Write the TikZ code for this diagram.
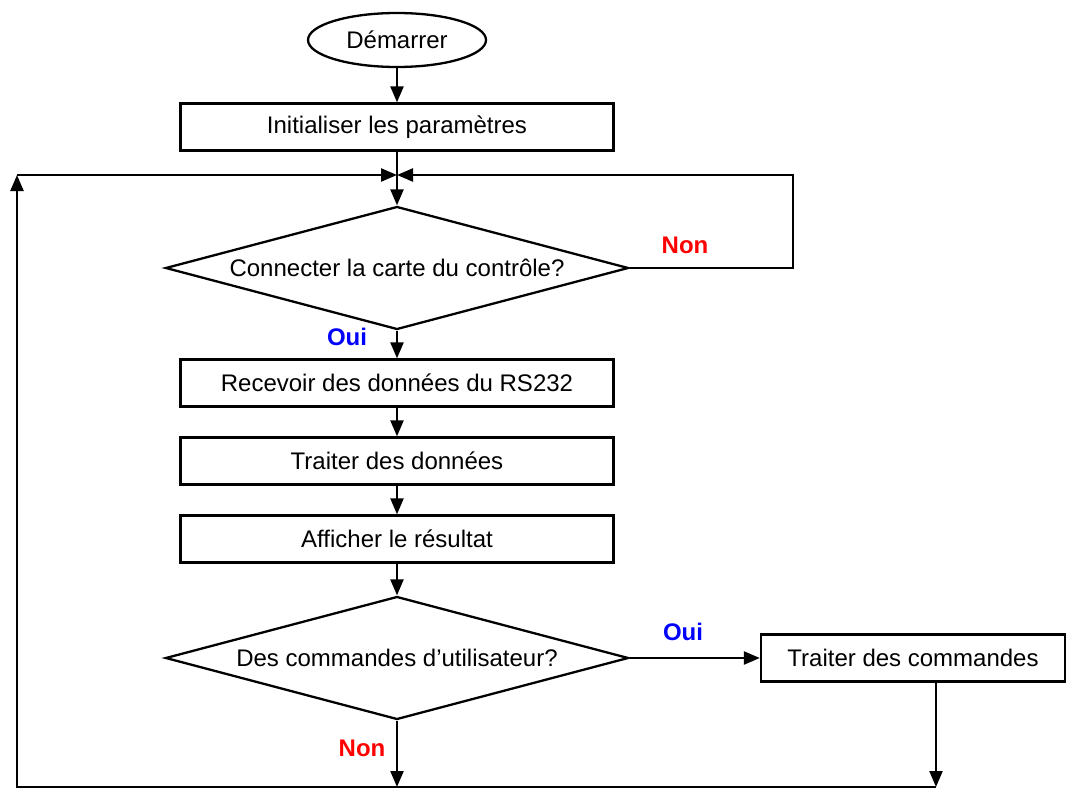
\documentclass[tikz,border=0pt]{standalone}
\usepackage{fontspec}
\setmainfont{Liberation Sans}
\usetikzlibrary{shapes.geometric,arrows.meta}
\begin{document}
\begin{tikzpicture}[x=1pt,y=-1pt,
  every node/.style={font=\fontsize{24}{28}\selectfont},
  line/.style={line width=2.3pt,line join=miter},
  arr/.style={line,-{Triangle[length=16pt,width=13pt]}},
  box/.style={draw,line width=2.3pt,rectangle,minimum width=433pt,minimum height=47pt,inner sep=0pt},
  dec/.style={draw,line width=2.3pt,shape=diamond,aspect=3.76,inner sep=0pt,minimum width=463pt,minimum height=123pt},
  term/.style={draw,line width=2.3pt,ellipse,minimum width=178pt,minimum height=54pt,inner sep=0pt},
  yes/.style={text=blue,font=\fontsize{24}{28}\selectfont\bfseries},
  no/.style={text=red,font=\fontsize{24}{28}\selectfont\bfseries}]
\useasboundingbox (0,0) rectangle (1066,789);
\node[term] (start) at (397,40) {Démarrer};
\node[box] (init) at (397,127) {Initialiser les paramètres};
\coordinate (j1) at (397,175);
\node[dec] (d1) at (397,268) {Connecter la carte du contrôle?};
\node[box] (recv) at (397,383) {Recevoir des données du RS232};
\node[box] (trait) at (397,461) {Traiter des données};
\node[box] (aff) at (397,539) {Afficher le résultat};
\node[dec] (d2) at (397,658) {Des commandes d’utilisateur?};
\node[box,minimum width=304pt] (cmd) at (913,658) {Traiter des commandes};
\coordinate (r1) at (793,268);
\coordinate (r2) at (793,175);
\coordinate (tl) at (17,175);
\coordinate (bl) at (17,787);
\coordinate (b1) at (397,787);
\coordinate (b2) at (936,787);
\node[no] (non1) at (685,245) {Non};
\node[yes] (oui1) at (347,337) {Oui};
\node[yes] (oui2) at (683,632) {Oui};
\node[no] (non2) at (362,748) {Non};
\draw[arr] (start) -- (init);
\draw[line] (init.south) -- (j1);
\draw[arr] (j1) -- (d1.north);
\draw[arr] (d1.east) -- (r1) -- (r2) -- (j1);
\draw[arr] (b2) -- (bl) -- (tl);
\draw[arr] (tl) -- (j1);
\draw[arr] (d1.south) -- (recv);
\draw[arr] (recv) -- (trait);
\draw[arr] (trait) -- (aff);
\draw[arr] (aff) -- (d2.north);
\draw[arr] (d2.east) -- (cmd.west);
\draw[arr] (d2.south) -- (b1);
\draw[arr] (cmd.south -| b2) -- (b2);
\end{tikzpicture}
\end{document}
